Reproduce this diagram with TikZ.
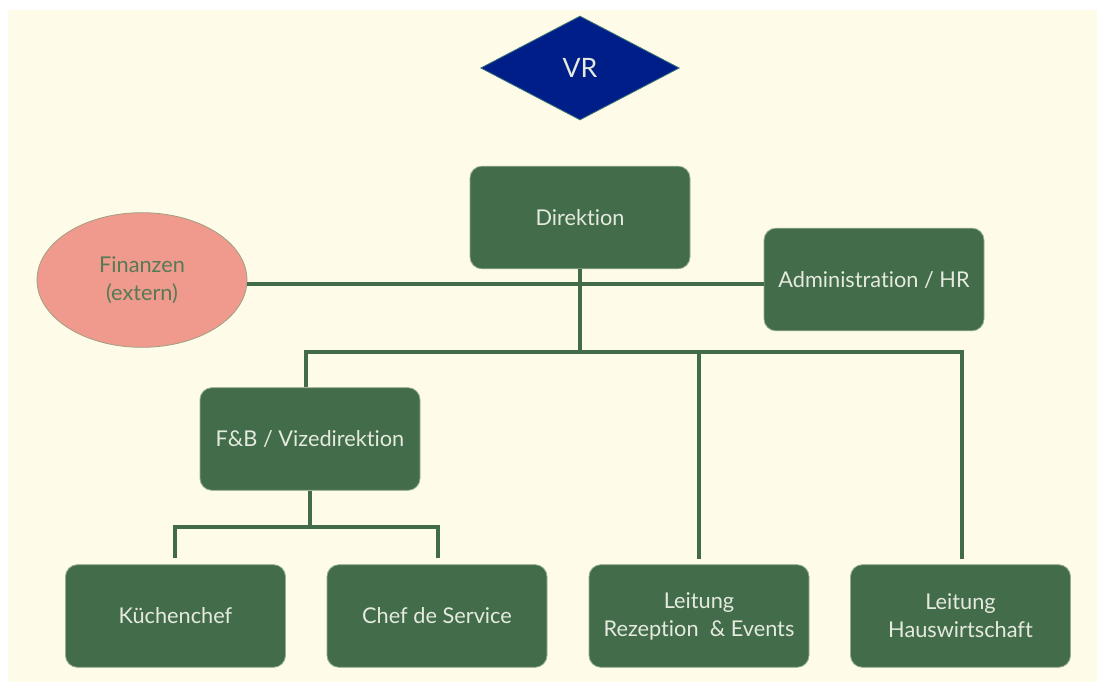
\documentclass[tikz,border=0pt]{standalone}
\usepackage{fontspec}
\setmainfont{Lato}[Ligatures={NoCommon}]
\usetikzlibrary{shapes.geometric,calc}
\definecolor{bg}{RGB}{254,251,233}
\definecolor{boxg}{RGB}{67,108,74}
\definecolor{boxedge}{RGB}{150,175,140}
\definecolor{txt}{RGB}{228,234,222}
\definecolor{vrblue}{RGB}{0,30,135}
\definecolor{vredge}{RGB}{60,120,120}
\definecolor{pinkf}{RGB}{240,154,142}
\definecolor{pinkedge}{RGB}{160,160,130}
\definecolor{pinktxt}{RGB}{85,122,85}
\definecolor{linec}{RGB}{66,107,73}
\tikzset{
  orgbox/.style={draw=boxedge, line width=0.6pt, fill=boxg, rounded corners=9pt,
    minimum width=165pt, minimum height=77pt, text=txt, align=center,
    font=\fontsize{16.3}{21}\selectfont, inner sep=0pt},
  conn/.style={draw=linec, line width=3pt},
}
\begin{document}
\begin{tikzpicture}[x=0.75pt, y=-0.75pt]
\useasboundingbox (0,0) rectangle (1097,682);
\fill[white] (0,0) rectangle (1097,682);
\fill[bg] (8,10) rectangle (1097,682);
% nodes
\node[diamond, draw=vredge, line width=0.6pt, fill=vrblue, minimum width=149pt, minimum height=78pt,
  aspect=1.9, inner sep=0pt, text=txt, font=\fontsize{20}{22}\selectfont] (vr) at (580,68) {VR};
\node[orgbox] (dir) at (580,217.5) {Direktion};
\node[ellipse, draw=pinkedge, line width=0.6pt, fill=pinkf, minimum width=157.5pt, minimum height=101pt,
  inner sep=0pt, text=pinktxt, align=center, font=\fontsize{16.3}{20.5}\selectfont] (fin) at (142,280) {Finanzen\\(extern)};
\node[orgbox] (adm) at (874,279.5) {Administration / HR};
\node[orgbox] (fb) at (310,439) {F\&B / Vizedirektion};
\node[orgbox] (kc) at (175.5,616) {Küchenchef};
\node[orgbox] (cs) at (437,616) {Chef de Service};
\node[orgbox] (lr) at (699,616) {Leitung\\Rezeption\ \ \& Events};
\node[orgbox] (lh) at (960.5,616) {Leitung\\Hauswirtschaft};
% coordinates
\coordinate (hl) at (306,352);
\coordinate (hr) at (962,352);
\coordinate (hm) at (580,352);
\coordinate (fbl) at (175,527);
\coordinate (fbr) at (438,527);
\coordinate (fbm) at (310,527);
% connectors
\draw[conn] (fin.east |- 0,284) -- (adm.west |- 0,284);
\draw[conn] (dir.south) -- (hm);
\draw[conn] (fb.north -| hl) -- (hl) -- (hr) -- ($(lh.north -| hr)+(0,-5)$);
\draw[conn] ($(lr.north)+(0,-5)$) -- (lr.north |- hl);
\draw[conn] (fb.south) -- (fbm);
\draw[conn] ($(kc.north -| fbl)+(0,-6)$) -- (fbl) -- (fbr) -- ($(cs.north -| fbr)+(0,-6)$);
\end{tikzpicture}
\end{document}
